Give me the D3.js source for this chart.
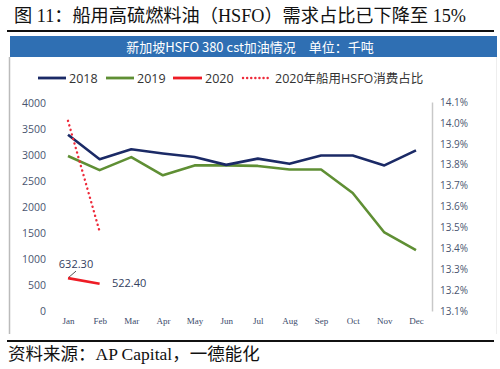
<!DOCTYPE html>
<html><head><meta charset="utf-8">
<script src="https://cdn.jsdelivr.net/npm/d3@7"></script>
<style>html,body{margin:0;padding:0;background:#fff;}svg{display:block;}</style>
</head><body>
<svg id="c" width="500" height="369"></svg>
<script>
const months = ["Jan","Feb","Mar","Apr","May","Jun","Jul","Aug","Sep","Oct","Nov","Dec"];
const s2018 = [3390,2920,3110,3030,2960,2810,2930,2830,2990,2990,2800,3090];
const s2019 = [2980,2710,2960,2610,2800,2800,2790,2720,2720,2270,1510,1170];
const s2020 = [632.30,522.40];
const share2020 = [14.01,13.48];
const leftTicks = [0,500,1000,1500,2000,2500,3000,3500,4000];
const rightTicks = [13.1,13.2,13.3,13.4,13.5,13.6,13.7,13.8,13.9,14.0,14.1];

const svg = d3.select("#c");
const CJK = "'Noto Sans CJK SC'";
const serifMix = "'Liberation Serif', 'Noto Sans CJK SC'";

// title
svg.append("text").attr("x",14).attr("y",21.5).attr("font-family",serifMix)
  .attr("font-size",18.2).attr("fill","#111").text("图 11：船用高硫燃料油（HSFO）需求占比已下降至 15%");
svg.append("line").attr("x1",7).attr("x2",494).attr("y1",31).attr("y2",31).attr("stroke","#111").attr("stroke-width",2);

// banner
svg.append("rect").attr("x",10).attr("y",36).attr("width",487).attr("height",21).attr("fill","#2f6fb3");
svg.append("text").attr("x",250).attr("y",51.5).attr("text-anchor","middle").attr("font-family",CJK)
  .attr("font-size",13).attr("fill","#fff").text("新加坡HSFO 380 cst加油情况　单位：千吨");

// box borders
svg.append("line").attr("x1",9.5).attr("x2",9.5).attr("y1",57).attr("y2",334).attr("stroke","#bbb").attr("stroke-width",1.5);
svg.append("line").attr("x1",496.5).attr("x2",496.5).attr("y1",57).attr("y2",334).attr("stroke","#eee").attr("stroke-width",1);

// bottom rule + source
svg.append("line").attr("x1",7).attr("x2",494).attr("y1",341).attr("y2",341).attr("stroke","#111").attr("stroke-width",2);
svg.append("text").attr("x",8).attr("y",360).attr("font-family",serifMix)
  .attr("font-size",17.5).attr("fill","#111").text("资料来源：AP Capital，一德能化");

// scales
const x = d3.scalePoint().domain(months).range([68,416]);
const yL = d3.scaleLinear().domain([0,4000]).range([311,103]);
const yR = d3.scaleLinear().domain([13.1,14.1]).range([311,102]);

// left axis
const gL = svg.append("g").attr("transform","translate(46,0)")
  .call(d3.axisLeft(yL).tickValues(leftTicks).tickSize(0).tickPadding(0).tickFormat(d3.format("d")));
gL.select(".domain").remove();
gL.selectAll("text").attr("font-family","'Open Sans', 'DejaVu Sans', sans-serif").attr("font-size",10.5).attr("fill","#4a5570");

// right axis
const gR = svg.append("g").attr("transform","translate(432,0)")
  .call(d3.axisRight(yR).tickValues(rightTicks).tickSize(0).tickPadding(8).tickFormat(d => d.toFixed(1)+"%"));
gR.select(".domain").attr("stroke","#c8c8c8").attr("stroke-width",1.5);
gR.selectAll("text").attr("font-family","'Open Sans', 'DejaVu Sans', sans-serif").attr("font-size",10).attr("fill","#4a5570");

// x axis
const gX = svg.append("g").attr("transform","translate(0,318)")
  .call(d3.axisBottom(x).tickSize(0).tickPadding(0));
gX.select(".domain").remove();
gX.selectAll("text").attr("font-family","'Liberation Serif', serif").attr("font-size",9).attr("fill","#3a4a6a");

// lines
const lineL = d3.line().x((d,i)=>x(months[i])).y(d=>yL(d));
const lineR = d3.line().x((d,i)=>x(months[i])).y(d=>yR(d));
svg.append("path").datum(s2019).attr("d",lineL).attr("fill","none").attr("stroke","#5f8f34").attr("stroke-width",2.6).attr("stroke-linejoin","round");
svg.append("path").datum(s2018).attr("d",lineL).attr("fill","none").attr("stroke","#1b2a66").attr("stroke-width",2.6).attr("stroke-linejoin","round");
svg.append("path").datum(s2020).attr("d",lineL).attr("fill","none").attr("stroke","#ee1c25").attr("stroke-width",2.6);
svg.append("path").datum(share2020).attr("d",lineR).attr("fill","none").attr("stroke","#ee2a3a").attr("stroke-width",2.4)
  .attr("stroke-dasharray","0.1,4.6").attr("stroke-linecap","round");

// data labels
svg.append("line").attr("x1",x("Jan")+1).attr("y1",yL(s2020[0])-1).attr("x2",x("Jan")+8).attr("y2",yL(s2020[0])-7).attr("stroke","#555").attr("stroke-width",1);
svg.append("text").attr("x",76).attr("y",268).attr("text-anchor","middle").attr("font-family","'Open Sans', sans-serif")
  .attr("font-size",11).attr("fill","#33405e").text(d3.format(".2f")(s2020[0]));
svg.append("text").attr("x",112).attr("y",287).attr("font-family","'Open Sans', sans-serif")
  .attr("font-size",11).attr("fill","#33405e").text(d3.format(".2f")(s2020[1]));

// legend
const lg = svg.append("g").attr("font-family","'Open Sans', 'Noto Sans CJK SC', sans-serif").attr("font-size",12.5).attr("fill","#333");
const items = [
  {x1:38,x2:66,tx:69,c:"#1b2a66",t:"2018",dash:null},
  {x1:106,x2:134,tx:137,c:"#5f8f34",t:"2019",dash:null},
  {x1:173,x2:202,tx:205,c:"#ee1c25",t:"2020",dash:null},
  {x1:243,x2:268,tx:275,c:"#ee2a3a",t:"2020年船用HSFO消费占比",dash:"0.1,4"}
];
items.forEach(it=>{
  const l = lg.append("line").attr("x1",it.x1).attr("x2",it.x2).attr("y1",78).attr("y2",78).attr("stroke",it.c).attr("stroke-width",it.dash?2.4:2.8);
  if(it.dash) l.attr("stroke-dasharray",it.dash).attr("stroke-linecap","round");
  lg.append("text").attr("x",it.tx).attr("y",82.5).text(it.t);
});
</script>
</body></html>
